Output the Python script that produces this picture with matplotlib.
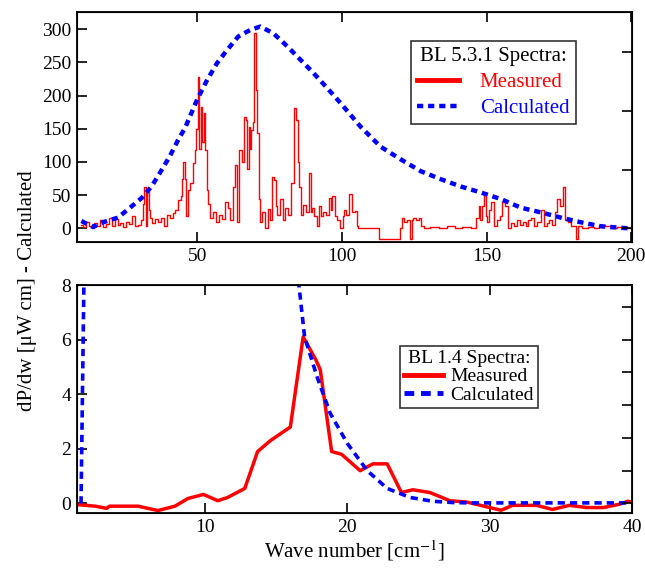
import matplotlib
matplotlib.use("Agg")
import matplotlib.pyplot as plt

plt.rcParams['font.family'] = ['Liberation Serif', 'DejaVu Serif']
plt.rcParams['mathtext.fontset'] = 'stix'

# ---- BL 5.3.1 (top panel) ----
top_meas_x = [10, 11, 12, 13, 14, 15, 16, 17, 18, 19, 20, 21, 22, 23, 24, 25, 26, 27, 28, 29,
              30, 31, 31.5, 32, 32.5, 33, 33.5, 34, 35, 36, 37, 38, 39, 40, 41, 42, 43, 44,
              44.5, 45, 45.5, 46, 46.5, 47, 48, 49, 49.5, 50, 50.5, 51, 51.5, 52, 52.5, 53,
              53.5, 54, 55, 56, 57, 58, 59, 60, 61, 62, 63, 63.5, 64, 65, 66, 66.5, 67, 67.5,
              68, 68.5, 69, 69.5, 70, 70.5, 71, 71.5, 72, 73, 74, 75, 75.5, 76, 77, 77.5, 78,
              79, 80, 81, 82, 83, 84, 84.5, 85, 85.5, 86, 87, 88, 89, 89.5, 90, 91, 92, 92.5,
              93, 94, 95, 96, 96.5, 97, 98, 99, 100, 100.5, 101, 102, 103, 104, 105, 105.5,
              106, 120, 120.5, 121, 122, 123, 124, 124.5, 125, 126, 127, 128, 129, 132, 135,
              138, 140, 143, 146, 147, 147.5, 148, 149, 149.5, 150, 150.5, 151, 152, 153, 154,
              155, 156, 157, 158, 159, 160, 161, 162, 163, 164, 165, 166, 167, 168, 169.5,
              170.5, 171, 172, 173, 174, 175, 176, 176.5, 177.5, 178.5, 180, 181.5, 182, 184,
              186, 188, 190, 192, 194, 196, 198, 200]
top_meas_y = [5, 2, 10, 3, 0, 8, 4, 12, 2, 6, 16, 4, 14, 5, 8, 2, 10, 6, 18, 3,
              5, 13, 36, 63, 3, 56, 28, 16, 8, 14, 10, 16, 3, 20, 16, 23, 28, 43,
              48, 74, 100, 74, 18, 58, 68, 99, 118, 150, 228, 120, 183, 130, 174, 118,
              58, 36, 15, 24, 10, 20, 14, 40, 30, 13, 63, 96, 9, 118, 100, 168, 163, 89,
              153, 120, 148, 160, 294, 209, 144, 44, 10, 25, 0, 29, 12, 77, 73, 33, 20,
              44, 13, 30, 20, 69, 182, 163, 100, 63, 20, 35, 25, 84, 24, 30, 18, 3, 33,
              18, 24, 20, 46, 28, 48, 18, 13, 0, 18, 28, 20, 51, 24, 26, 3,
              0, -16, 0, 16, 9, 13, -16, 13, 16, 12, 16, 3, 0, 2, 0,
              3, 0, 2, 0, 16, 33, 13, 33, 51, 18, 9, 28, 40, 3, 13,
              18, 40, 33, 1, 8, 3, 13, 5, 10, 3, 12, 16, 3, 9, 28,
              3, 8, 13, 5, 24, 44, 33, 63, 13, 9, 3, -16, 3, 0,
              2, 0, 5, 3, 0, 2, 0, 0]

top_calc_x = [10, 14, 17.4, 22.6, 26.8, 30.9, 34.4, 37.2, 40.6, 43.4, 45.8, 50, 53.5, 56.9,
              60.4, 64.2, 68.4, 71.8, 76.3, 81.2, 85.7, 90.2, 95, 99.5, 106.5, 113.4, 120.3,
              127.3, 134.2, 141.1, 148, 155, 161.9, 168.8, 175.8, 182.7, 189.6, 199]
top_calc_y = [11, 2, 9, 16, 31, 46, 64, 84, 109, 133, 151, 194, 224, 249,
              269, 289, 299, 304, 294, 274, 254, 234, 211, 189, 153, 123, 104,
              86, 74, 63, 54, 44, 31, 24, 16, 9, 3, 0]

# ---- BL 1.4 (bottom panel) ----
bot_meas_x = [1.2, 2.3, 3.1, 3.3, 5.3, 6.7, 7.9, 8.8, 9.9, 10.9, 11.6, 12.8, 13.7, 14.6, 16.0,
              16.9, 17.8, 18.1, 18.9, 19.6, 20.9, 21.8, 22.8, 23.8, 24.6, 25.8, 27.2, 28.4,
              30.0, 30.8, 31.6, 33.3, 34.4, 35.6, 36.8, 38.0, 39.1, 39.7, 40]
bot_meas_y = [-0.05, -0.1, -0.18, -0.1, -0.1, -0.26, -0.1, 0.18, 0.33, 0.1, 0.22, 0.55, 1.9, 2.3, 2.8,
              6.1, 5.25, 4.9, 1.9, 1.8, 1.2, 1.45, 1.45, 0.4, 0.5, 0.4, 0.1, 0.05,
              -0.15, -0.25, -0.07, -0.07, -0.22, -0.07, -0.15, -0.15, -0.03, 0.08, 0.05]

bot_calc_x = [1.3, 1.4, 1.6, 8.0, 16.4, 16.6, 17.0, 17.9, 18.8, 20.0, 21.4, 22.8, 24.4, 26.0,
              27.5, 29.0, 40]
bot_calc_y = [0, 4, 12, 60, 9, 8, 6.1, 4.6, 3.3, 2.2, 1.2, 0.55, 0.22, 0.08,
              0.03, 0.02, 0.02]

fig = plt.figure(figsize=(6.45, 5.7), dpi=100)
ax1 = fig.add_axes([0.119, 0.575, 0.861, 0.404])
ax2 = fig.add_axes([0.119, 0.1, 0.861, 0.4])

ax1.plot(top_meas_x, top_meas_y, color='red', lw=1.0, drawstyle='steps-mid', label='Measured')
ax1.plot(top_calc_x, top_calc_y, color='blue', lw=3.2, ls=(0, (1.4, 1.1)), label='Calculated')
ax1.set_xlim(8.4, 200.3)
ax1.set_ylim(-21, 326)
ax1.set_xticks([50, 100, 150, 200])
ax1.set_yticks([0, 50, 100, 150, 200, 250, 300])

ax2.plot(bot_meas_x, bot_meas_y, color='red', lw=2.5, label='Measured')
ax2.plot(bot_calc_x, bot_calc_y, color='blue', lw=2.6, ls=(0, (2.0, 1.4)), label='Calculated')
ax2.set_xlim(1, 40)
ax2.set_ylim(-0.35, 8)
ax2.set_xticks([10, 20, 30, 40])
ax2.set_yticks([0, 2, 4, 6, 8])

for ax in (ax1, ax2):
    ax.tick_params(direction='in', length=7, width=1.2, labelsize=14, pad=4, top=True, right=False)
    for s in ax.spines.values():
        s.set_linewidth(1.3)

# extra right-hand ticks (no labels)
r1 = ax1.twinx()
r1.set_ylim(-21 / 88.6, 326 / 88.6)
r1.set_yticks([0, 1, 2, 3])
r1.tick_params(direction='in', length=7, width=1.2, labelright=False)
r2 = ax2.twinx()
r2.set_ylim(-0.35 / 1.2, 8 / 1.2)
r2.set_yticks([0, 1, 2, 3, 4, 5, 6])
r2.tick_params(direction='in', length=7, width=1.2, labelright=False)

leg1 = ax1.legend(title='BL 5.3.1 Spectra:', loc='upper left',
                  bbox_to_anchor=(411 / 645, 1 - 41 / 570), bbox_transform=fig.transFigure,
                  fontsize=15, title_fontsize=15, frameon=True, fancybox=False,
                  edgecolor='black', handlelength=2.0, borderpad=0.3, labelspacing=0.3,
                  handletextpad=1.0, borderaxespad=0)
leg1.get_frame().set_linewidth(1.2)
leg1.get_texts()[0].set_color('red')
leg1.get_texts()[1].set_color('blue')
leg1.legend_handles[0].set_linewidth(3.5)

leg2 = ax2.legend(title='BL 1.4 Spectra:', loc='upper left',
                  bbox_to_anchor=(400 / 645, 1 - 346 / 570), bbox_transform=fig.transFigure,
                  fontsize=14, title_fontsize=14, frameon=True, fancybox=False,
                  edgecolor='black', handlelength=2.0, borderpad=0.2, labelspacing=0.05,
                  handletextpad=0.4, borderaxespad=0)
leg2.get_frame().set_linewidth(1.2)
leg2.legend_handles[0].set_linewidth(3.5)
leg2.legend_handles[1].set_linewidth(3.5)

ax2.set_xlabel('Wave number [cm$^{-1}$]', fontsize=15, labelpad=2)
fig.text(0.043, 0.49, 'dP/dw [\u03bcW cm] - Calculated', rotation=90, fontsize=15,
         ha='center', va='center')

fig.savefig('out.png', dpi=100)
